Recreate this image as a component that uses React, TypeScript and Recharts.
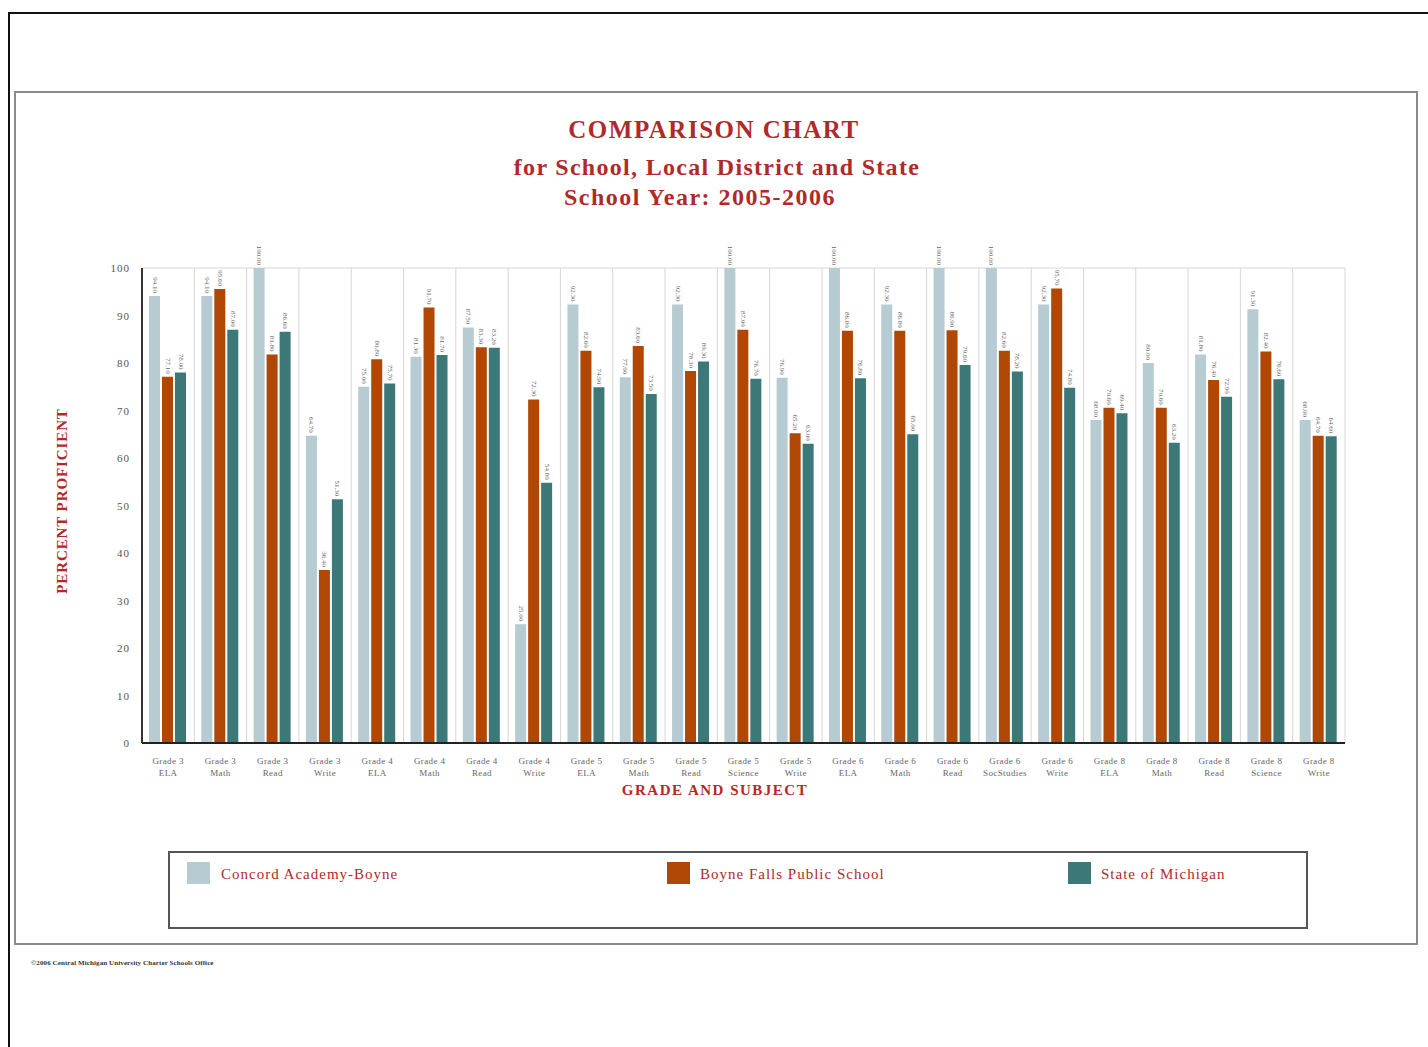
import React from 'react';
import { BarChart, Bar, XAxis, YAxis, CartesianGrid, LabelList } from 'recharts';

const grades = ['Grade 3','Grade 3','Grade 3','Grade 3','Grade 4','Grade 4','Grade 4','Grade 4','Grade 5','Grade 5','Grade 5','Grade 5','Grade 5','Grade 6','Grade 6','Grade 6','Grade 6','Grade 6','Grade 8','Grade 8','Grade 8','Grade 8','Grade 8'];
const subjects = ['ELA','Math','Read','Write','ELA','Math','Read','Write','ELA','Math','Read','Science','Write','ELA','Math','Read','SocStudies','Write','ELA','Math','Read','Science','Write'];
const concord = [94.1,94.1,100,64.7,75.0,81.3,87.5,25.0,92.3,77.0,92.3,100,76.9,100,92.3,100,100,92.3,68.0,80.0,81.8,91.3,68.0];
const boyne = [77.1,95.6,81.8,36.4,80.8,91.7,83.3,72.3,82.6,83.6,78.3,87.0,65.2,86.8,86.8,86.9,82.6,95.7,70.6,70.6,76.4,82.4,64.7];
const michigan = [78.0,87.0,86.6,51.3,75.7,81.7,83.2,54.8,74.9,73.5,80.3,76.7,63.0,76.8,65.0,79.6,78.2,74.8,69.4,63.2,72.9,76.6,64.6];
const yTicks = [0,10,20,30,40,50,60,70,80,90,100];
const seriesNames = ['Concord Academy-Boyne','Boyne Falls Public School','State of Michigan'];
const colors = ['#b6ccd2','#b04705','#3d7879'];

const data = subjects.map((s, i) => ({
  name: grades[i] + '|' + s,
  concord: concord[i],
  boyne: boyne[i],
  michigan: michigan[i],
}));

const RED = '#b02a2a';
const SERIF = '"Liberation Serif", "DejaVu Serif", serif';

const BarLabel = (props: any) => {
  const { x, y, width, value } = props;
  const cx = x + width / 2;
  const cy = y - 3;
  return (
    <text x={cx} y={cy} transform={`rotate(90, ${cx}, ${cy})`} textAnchor="end" dominantBaseline="central" fontSize={7} fill="#666" fontFamily={SERIF}>
      {Number(value).toFixed(2)}
    </text>
  );
};

const XTick = (props: any) => {
  const { x, y, payload } = props;
  const [g, s] = String(payload.value).split('|');
  return (
    <g>
      <text x={x} y={y + 13} textAnchor="middle" fontSize={9} letterSpacing={0.4} fill="#666" fontFamily={SERIF}>{g}</text>
      <text x={x} y={y + 25} textAnchor="middle" fontSize={9} letterSpacing={0.4} fill="#666" fontFamily={SERIF}>{s}</text>
    </g>
  );
};

const YTick = (props: any) => {
  const { x, y, payload } = props;
  return (
    <text x={x - 4} y={y} textAnchor="end" dominantBaseline="central" fontSize={11} letterSpacing={1} fill="#555" fontFamily={SERIF}>{payload.value}</text>
  );
};

export default function App() {
  return (
    <div style={{ position: 'absolute', left: 0, top: 0, width: 1428, height: 1047, background: '#fff', fontFamily: SERIF, overflow: 'hidden' }}>
      <div style={{ position: 'absolute', left: 8, top: 12, width: 1440, height: 1060, borderTop: '2px solid #111', borderLeft: '2px solid #111' }} />
      <div style={{ position: 'absolute', left: 14, top: 91, width: 1400, height: 850, border: '2px solid #8a8a8a' }} />
      <div style={{ position: 'absolute', left: 0, width: 1428, top: 114, textAlign: 'center', color: RED, fontWeight: 'bold', fontSize: 25, letterSpacing: 1.5, lineHeight: '32px' }}>COMPARISON CHART</div>
      <div style={{ position: 'absolute', left: 0, width: 1434, top: 151, textAlign: 'center', color: RED, fontWeight: 'bold', fontSize: 24, letterSpacing: 1.3, lineHeight: '32px' }}>for School, Local District and State</div>
      <div style={{ position: 'absolute', left: 0, width: 1400, top: 181, textAlign: 'center', color: RED, fontWeight: 'bold', fontSize: 24, letterSpacing: 1.5, lineHeight: '32px' }}>School Year: 2005-2006</div>
      <div style={{ position: 'absolute', left: 62, top: 501, transform: 'translate(-50%, -50%) rotate(-90deg)', color: RED, fontWeight: 'bold', fontSize: 15, letterSpacing: 0.9, whiteSpace: 'nowrap' }}>PERCENT PROFICIENT</div>
      <div style={{ position: 'absolute', left: 0, width: 1430, top: 781, textAlign: 'center', color: RED, fontWeight: 'bold', fontSize: 15, letterSpacing: 1.5, lineHeight: '18px' }}>GRADE AND SUBJECT</div>
      <div style={{ position: 'absolute', left: 0, top: 0 }}>
        <BarChart width={1428} height={1047} data={data} margin={{ top: 268, right: 83, left: 112, bottom: 264 }} barGap={2} barCategoryGap={7}>
          <CartesianGrid
            stroke="#d6d6d6"
            horizontalCoordinatesGenerator={({ offset }: any) => [offset.top]}
            verticalCoordinatesGenerator={({ offset }: any) => data.map((_, i) => offset.left + ((i + 1) * offset.width) / data.length)}
          />
          <XAxis dataKey="name" interval={0} tick={<XTick />} tickLine={false} axisLine={{ stroke: '#222', strokeWidth: 2 }} height={40} />
          <YAxis domain={[0, 100]} ticks={yTicks} width={30} tickLine={false} axisLine={{ stroke: '#333', strokeWidth: 2 }} tick={<YTick />} />
          <Bar dataKey="concord" fill={colors[0]} isAnimationActive={false}>
            <LabelList dataKey="concord" content={<BarLabel />} />
          </Bar>
          <Bar dataKey="boyne" fill={colors[1]} isAnimationActive={false}>
            <LabelList dataKey="boyne" content={<BarLabel />} />
          </Bar>
          <Bar dataKey="michigan" fill={colors[2]} isAnimationActive={false}>
            <LabelList dataKey="michigan" content={<BarLabel />} />
          </Bar>
        </BarChart>
      </div>
      <div style={{ position: 'absolute', left: 168, top: 851, width: 1136, height: 74, border: '2px solid #555' }} />
      {[{ l: 187, t: 221 }, { l: 667, t: 700 }, { l: 1068, t: 1101 }].map((p, i) => (
        <React.Fragment key={i}>
          <div style={{ position: 'absolute', left: p.l, top: 862, width: 23, height: 22, background: colors[i] }} />
          <div style={{ position: 'absolute', left: p.t, top: 864, color: RED, fontSize: 15, letterSpacing: 1, lineHeight: '20px', whiteSpace: 'nowrap' }}>{seriesNames[i]}</div>
        </React.Fragment>
      ))}
      <div style={{ position: 'absolute', left: 31, top: 959, fontSize: 7, letterSpacing: 0.1, color: '#333', fontWeight: 'bold', whiteSpace: 'nowrap' }}>©2006 Central Michigan University Charter Schools Office</div>
    </div>
  );
}
